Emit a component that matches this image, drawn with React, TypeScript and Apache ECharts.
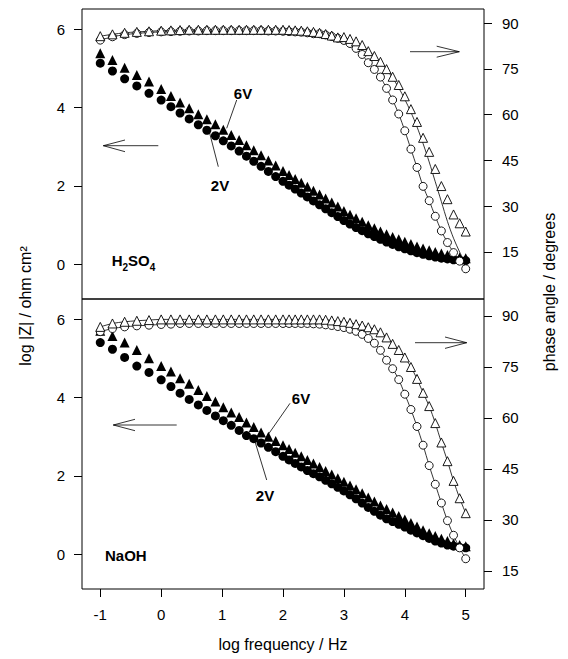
import React, { useEffect, useRef } from "react";
import * as echarts from "echarts";

// log frequency / Hz
const logF = [
  -1, -0.8, -0.6, -0.4, -0.2, 0, 0.16, 0.31, 0.46, 0.61, 0.75, 0.89, 1.02, 1.15, 1.28, 1.4, 1.52, 1.64, 1.76, 1.88,
  2.0, 2.1, 2.2, 2.3, 2.4, 2.5, 2.6, 2.7, 2.8, 2.9, 3.0, 3.1, 3.2, 3.3, 3.4, 3.5, 3.6, 3.7, 3.8, 3.9,
  4.0, 4.1, 4.2, 4.3, 4.4, 4.5, 4.6, 4.7, 4.8, 4.9, 5.0,
];

// H2SO4 panel: log |Z|
const h2so4Z2V = [
  5.13, 4.93, 4.73, 4.55, 4.36, 4.19, 4.02, 3.86, 3.71, 3.56, 3.42, 3.28, 3.15, 3.02, 2.89, 2.76, 2.63, 2.5, 2.37, 2.24,
  2.12, 2.02, 1.92, 1.82, 1.72, 1.62, 1.52, 1.42, 1.32, 1.22, 1.12, 1.03, 0.94, 0.86, 0.78, 0.71, 0.64, 0.57, 0.51, 0.45,
  0.4, 0.35, 0.3, 0.26, 0.22, 0.19, 0.16, 0.14, 0.12, 0.11, 0.1,
];
const h2so4Z6V = [
  5.38, 5.21, 5.01, 4.83, 4.66, 4.47, 4.29, 4.13, 3.98, 3.83, 3.7, 3.57, 3.43, 3.3, 3.17, 3.04, 2.91, 2.78, 2.65, 2.52,
  2.38, 2.28, 2.18, 2.08, 1.98, 1.88, 1.78, 1.68, 1.58, 1.48, 1.36, 1.27, 1.18, 1.09, 1.0, 0.92, 0.84, 0.77, 0.7, 0.64,
  0.58, 0.52, 0.46, 0.41, 0.36, 0.32, 0.28, 0.24, 0.21, 0.18, 0.16,
];
// H2SO4 panel: phase angle
const h2so4Ph2V = [
  84.4, 85.5, 86.2, 86.6, 86.9, 87.1, 87.2, 87.3, 87.4, 87.4, 87.5, 87.5, 87.5, 87.5, 87.5, 87.5, 87.5, 87.5, 87.4, 87.4,
  87.3, 87.2, 87.1, 87.0, 86.8, 86.5, 86.5, 86.1, 85.6, 85.0, 84.3, 83.3, 81.7, 79.7, 77.0, 74.8, 72.3, 68.6, 64.8, 60.2,
  54.7, 48.7, 42.7, 36.5, 31.8, 26.7, 21.9, 18.1, 14.8, 12.0, 9.5,
];
const h2so4Ph6V = [
  85.7, 86.3, 86.8, 87.1, 87.3, 87.5, 87.6, 87.7, 87.8, 87.8, 87.8, 87.8, 87.8, 87.8, 87.8, 87.8, 87.8, 87.8, 87.8, 87.8,
  87.8, 87.7, 87.6, 87.5, 87.3, 87.1, 86.8, 86.4, 85.9, 85.3, 85.4, 84.8, 84.0, 82.8, 80.8, 79.2, 77.3, 74.9, 72.4, 69.7,
  66.0, 61.8, 57.6, 52.4, 47.8, 42.2, 36.6, 32.3, 27.3, 24.4, 21.7,
];
const h2so4Fit6V = [
  85.7, 86.3, 86.8, 87.1, 87.3, 87.5, 87.6, 87.7, 87.8, 87.8, 87.8, 87.8, 87.8, 87.8, 87.8, 87.8, 87.8, 87.8, 87.8, 87.8,
  87.8, 87.7, 87.6, 87.5, 87.3, 87.1, 86.8, 86.4, 85.9, 85.3, 85.0, 84.4, 83.6, 82.5, 81.0, 79.2, 77.2, 74.8, 72.0, 68.8,
  65.0, 60.8, 56.0, 50.5, 44.5, 38.0, 31.5, 25.0, 19.5, 15.0, 11.0,
];

// NaOH panel: log |Z|
const naohZ2V = [
  5.4, 5.23, 5.02, 4.8, 4.64, 4.45, 4.28, 4.11, 3.95, 3.81, 3.67, 3.53, 3.41, 3.29, 3.16, 3.03, 2.95, 2.84, 2.73, 2.62,
  2.5, 2.41, 2.32, 2.23, 2.14, 2.06, 1.98, 1.89, 1.8, 1.71, 1.62, 1.52, 1.42, 1.31, 1.2, 1.1, 1.0, 0.91, 0.84, 0.77,
  0.7, 0.62, 0.55, 0.48, 0.41, 0.34, 0.29, 0.24, 0.21, 0.18, 0.17,
];
const naohZ6V = [
  5.7, 5.57, 5.4, 5.21, 5.0, 4.8, 4.66, 4.49, 4.35, 4.19, 4.04, 3.9, 3.75, 3.62, 3.5, 3.36, 3.25, 3.11, 3.0, 2.89,
  2.78, 2.69, 2.59, 2.5, 2.41, 2.32, 2.23, 2.13, 2.04, 1.94, 1.85, 1.76, 1.66, 1.56, 1.45, 1.35, 1.25, 1.16, 1.07, 0.98,
  0.89, 0.8, 0.71, 0.62, 0.54, 0.47, 0.4, 0.34, 0.28, 0.24, 0.21,
];
// NaOH panel: phase angle
const naohPh2V = [
  85.4, 86.3, 86.8, 87.1, 87.3, 87.5, 87.6, 87.8, 87.8, 87.8, 87.8, 87.8, 87.8, 87.8, 87.8, 87.8, 87.8, 87.8, 87.8, 87.8,
  87.8, 87.8, 87.8, 87.8, 87.8, 87.7, 87.6, 87.4, 87.2, 86.9, 86.6, 86.1, 85.5, 84.6, 83.4, 82.0, 79.9, 77.0, 74.5, 71.3,
  67.0, 62.5, 57.5, 52.0, 46.0, 40.5, 35.0, 29.8, 25.5, 21.8, 18.6,
];
const naohPh6V = [
  86.8, 87.8, 88.3, 88.6, 88.8, 89.0, 89.0, 89.0, 89.0, 89.0, 89.0, 89.0, 89.0, 89.0, 89.0, 89.0, 89.0, 89.0, 89.0, 89.0,
  89.0, 89.0, 89.0, 89.0, 89.0, 89.0, 89.0, 88.9, 88.7, 88.5, 88.3, 88.0, 87.6, 87.2, 86.7, 86.1, 85.2, 83.7, 81.8, 80.0,
  77.8, 75.0, 71.5, 67.4, 63.5, 58.5, 52.8, 47.3, 41.5, 36.4, 32.0,
];

const xTicks = [-1, 0, 1, 2, 3, 4, 5];
const zTicks = [0, 2, 4, 6];
const phaseTicks = [15, 30, 45, 60, 75, 90];

const FONT = "'Liberation Sans', Arial, Helvetica, sans-serif";

const pairs = (ys: number[]) => logF.map((x, i) => [x, ys[i]]);

export default function App() {
  const ref = useRef<HTMLDivElement>(null);
  useEffect(() => {
    document.body.style.margin = "0";
    const chart = echarts.init(ref.current!, null, { renderer: "svg" });
    const gridBase = { left: 82, width: 402, height: 290, show: true, borderColor: "#000", borderWidth: 1, backgroundColor: "transparent" };
    const labelStyle = { color: "#000", fontSize: 15, fontFamily: FONT };
    const tickStyle = { color: "#000", width: 1 };
    const zAxis = (gridIndex: number) => ({
      gridIndex, type: "value", position: "left", min: -0.88, max: 6.51,
      axisLine: { show: false, onZero: false },
      axisTick: { show: true, length: 8, customValues: zTicks, lineStyle: tickStyle },
      axisLabel: { ...labelStyle, margin: 17, customValues: zTicks },
      splitLine: { show: false },
    });
    const phAxis = (gridIndex: number, min: number, max: number) => ({
      gridIndex, type: "value", position: "right", min, max,
      axisLine: { show: false, onZero: false },
      axisTick: { show: true, length: 8, customValues: phaseTicks, lineStyle: tickStyle },
      axisLabel: { ...labelStyle, margin: 18, customValues: phaseTicks },
      splitLine: { show: false },
    });
    const filled = (name: string, xi: number, yi: number, ys: number[], symbol: string, size: number) => ({
      name, type: "scatter", xAxisIndex: xi, yAxisIndex: yi, data: pairs(ys), symbol, symbolSize: size,
      itemStyle: { color: "#000", opacity: 1 }, z: 2,
    });
    const open = (name: string, xi: number, yi: number, ys: number[], symbol: string, size: number, withLine: boolean) => ({
      name, type: withLine ? "line" : "scatter", xAxisIndex: xi, yAxisIndex: yi, data: pairs(ys), symbol, symbolSize: size,
      showSymbol: true, smooth: withLine ? 0.3 : undefined,
      lineStyle: { color: "#000", width: 0.8 },
      itemStyle: { color: "#fff", borderColor: "#000", borderWidth: 0.9, opacity: 1 }, z: 4,
    });
    const fitLine = (name: string, xi: number, yi: number, ys: number[]) => ({
      name, type: "line", xAxisIndex: xi, yAxisIndex: yi, data: pairs(ys), showSymbol: false, symbol: "none", smooth: 0.3,
      lineStyle: { color: "#000", width: 0.8 }, z: 3,
    });
    const txt = (x: number, y: number, text: string, extra: any = {}) => ({
      type: "text", x, y,
      style: { text, fill: "#000", font: `bold 15px ${FONT}`, align: "center", verticalAlign: "middle", ...extra },
    });
    const seg = (x1: number, y1: number, x2: number, y2: number) => ({
      type: "line", shape: { x1, y1, x2, y2 }, style: { stroke: "#000", lineWidth: 0.8 },
    });
    const head = (pts: number[][]) => ({
      type: "polyline", shape: { points: pts }, style: { stroke: "#000", lineWidth: 0.8, fill: null },
    });

    chart.setOption({
      animation: false,
      backgroundColor: "#fff",
      grid: [
        { ...gridBase, top: 9 },
        { ...gridBase, top: 299 },
      ],
      xAxis: [
        {
          gridIndex: 0, type: "value", min: -1.3, max: 5.3,
          axisLine: { show: false, onZero: false }, axisTick: { show: false }, axisLabel: { show: false }, splitLine: { show: false },
        },
        {
          gridIndex: 1, type: "value", min: -1.3, max: 5.3,
          axisLine: { show: false, onZero: false },
          axisTick: { show: true, length: 8, customValues: xTicks, lineStyle: tickStyle },
          axisLabel: { ...labelStyle, margin: 18, customValues: xTicks },
          splitLine: { show: false },
        },
      ],
      yAxis: [zAxis(0), phAxis(0, -0.4, 94.6), zAxis(1), phAxis(1, 9.7, 95)],
      series: [
        filled("H2SO4 |Z| 2V", 0, 0, h2so4Z2V, "circle", 9),
        filled("H2SO4 |Z| 6V", 0, 0, h2so4Z6V, "triangle", 10),
        fitLine("H2SO4 fit 6V", 0, 1, h2so4Fit6V),
        open("H2SO4 phase 2V", 0, 1, h2so4Ph2V, "circle", 8, true),
        open("H2SO4 phase 6V", 0, 1, h2so4Ph6V, "triangle", 9, false),
        filled("NaOH |Z| 2V", 1, 2, naohZ2V, "circle", 9),
        filled("NaOH |Z| 6V", 1, 2, naohZ6V, "triangle", 10),
        open("NaOH phase 2V", 1, 3, naohPh2V, "circle", 8, true),
        open("NaOH phase 6V", 1, 3, naohPh6V, "triangle", 9, true),
      ],
      graphic: [
        // top panel annotations
        txt(243, 93, "6V"),
        seg(236.7, 100, 226.7, 128.3),
        txt(220, 185, "2V"),
        seg(209.3, 131.7, 218.3, 166.7),
        seg(103.3, 145.7, 158.3, 145.7),
        head([[125, 140], [103.3, 145.7], [125, 151.7]]),
        seg(410, 51.7, 459.3, 51.7),
        head([[436.7, 46.2], [459.3, 51.7], [436.7, 57.2]]),
        {
          type: "text", x: 111.7, y: 262,
          style: {
            text: "{a|H}{b|2}{a|SO}{b|4}", fill: "#000", align: "left", verticalAlign: "middle",
            rich: {
              a: { font: `bold 15px ${FONT}`, fill: "#000", lineHeight: 18, verticalAlign: "top" },
              b: { font: `bold 10px ${FONT}`, fill: "#000", lineHeight: 18, padding: [9, 0, 0, 0], verticalAlign: "top" },
            },
          },
        },
        // bottom panel annotations
        txt(301, 398, "6V"),
        seg(290, 403.3, 266.7, 436.7),
        txt(265, 495, "2V"),
        seg(255, 441.7, 266.7, 480),
        seg(113.3, 425, 176.7, 425),
        head([[135, 419.3], [113.3, 425], [135, 430.7]]),
        seg(415, 342.7, 466.7, 342.7),
        head([[445, 337], [466.7, 342.7], [445, 348.4]]),
        txt(105, 555, "NaOH", { align: "left" }),
        // axis names
        {
          type: "text", x: 25, y: 306, rotation: Math.PI / 2,
          style: { text: "log |Z| / ohm cm²", fill: "#000", font: `16px ${FONT}`, align: "center", verticalAlign: "middle" },
        },
        {
          type: "text", x: 549, y: 292, rotation: Math.PI / 2,
          style: { text: "phase angle / degrees", fill: "#000", font: `16px ${FONT}`, align: "center", verticalAlign: "middle" },
        },
        {
          type: "text", x: 283, y: 644,
          style: { text: "log frequency / Hz", fill: "#000", font: `16px ${FONT}`, align: "center", verticalAlign: "middle" },
        },
      ],
    });
    return () => chart.dispose();
  }, []);
  return <div ref={ref} style={{ width: 568, height: 659 }} />;
}
